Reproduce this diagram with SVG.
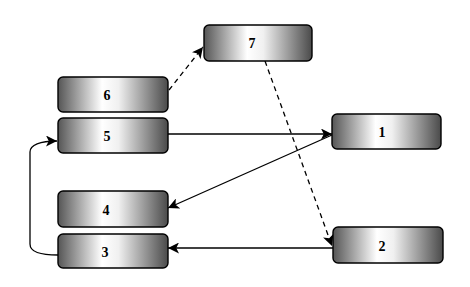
<svg xmlns="http://www.w3.org/2000/svg" width="470" height="287" viewBox="0 0 470 287">
<defs>
<linearGradient id="g" x1="0" y1="0" x2="1" y2="0">
<stop offset="0" stop-color="#555"/>
<stop offset="0.4" stop-color="#fff"/>
<stop offset="0.55" stop-color="#f0f0f0"/>
<stop offset="1" stop-color="#4a4a4a"/>
</linearGradient>
<marker id="a" viewBox="0 0 10 10" refX="10" refY="5" markerWidth="11" markerHeight="11" markerUnits="userSpaceOnUse" orient="auto">
<path d="M0,0 L10,5 L0,10 L2.5,5 Z" fill="#000"/>
</marker>
<style>
.b{fill:url(#g);stroke:#000;stroke-width:1.4}
.t{font-family:"Liberation Serif",serif;font-weight:bold;font-size:14px;fill:#000;text-anchor:middle;dominant-baseline:central}
.c{fill:none;stroke:#000;stroke-width:1.3}
.d{stroke-dasharray:5,4}
</style>
</defs>
<rect width="470" height="287" fill="#fff"/>
<g id="connectors">
<path class="c d" d="M169,90 L203,47" marker-end="url(#a)"/>
<path class="c d" d="M265,61 L332,246" marker-end="url(#a)"/>
<path class="c" d="M168,134 L332,134" marker-end="url(#a)"/>
<path class="c" d="M332,135 L168,208" marker-end="url(#a)"/>
<path class="c" d="M333,248 L168,248" marker-end="url(#a)"/>
<path class="c" d="M58,255 C40,255 30,252 30,244 L30,152 C30,145 40,141 57,141" marker-end="url(#a)"/>
</g>
<g id="n7"><rect class="b" x="204" y="25" width="108" height="36" rx="5"/><text class="t" x="252" y="43">7</text></g>
<g id="n6"><rect class="b" x="58" y="77" width="110" height="35" rx="5"/><text class="t" x="107" y="95">6</text></g>
<g id="n5"><rect class="b" x="58" y="118" width="110" height="35" rx="5"/><text class="t" x="107" y="136">5</text></g>
<g id="n1"><rect class="b" x="332" y="114" width="109" height="35" rx="5"/><text class="t" x="382" y="132">1</text></g>
<g id="n4"><rect class="b" x="58" y="191" width="110" height="36" rx="5"/><text class="t" x="106" y="210">4</text></g>
<g id="n3"><rect class="b" x="58" y="234" width="110" height="34" rx="5"/><text class="t" x="105" y="252">3</text></g>
<g id="n2"><rect class="b" x="333" y="227" width="110" height="36" rx="5"/><text class="t" x="382" y="246">2</text></g>
</svg>
